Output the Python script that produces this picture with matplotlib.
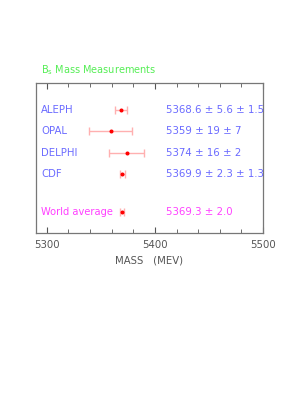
import matplotlib
matplotlib.use("Agg")
import matplotlib.pyplot as plt
from matplotlib.ticker import MultipleLocator
import numpy as np

names = ["ALEPH", "OPAL", "DELPHI", "CDF"]
mass = [5368.6, 5359.0, 5374.0, 5369.9]
stat = [5.6, 19.0, 16.0, 2.3]
syst = [1.5, 7.0, 2.0, 1.3]
value_text = ["5368.6 \u00b1 5.6 \u00b1 1.5", "5359 \u00b1 19 \u00b1 7",
              "5374 \u00b1 16 \u00b1 2", "5369.9 \u00b1 2.3 \u00b1 1.3"]
avg_mass = 5369.3
avg_err = 2.0
avg_text = "5369.3 \u00b1 2.0"

plt.rcParams['font.family'] = ['DejaVu Sans']

fig = plt.figure(figsize=(3.08, 3.98), dpi=100)
ax = fig.add_axes([36 / 308, 1 - 233 / 398, 227 / 308, 150 / 398])

rows = np.arange(len(names))
avg_row = 4.8
total = np.sqrt(np.array(stat) ** 2 + np.array(syst) ** 2)

ax.errorbar(mass, rows, xerr=total, fmt='none', ecolor='#ffb0b0',
            elinewidth=1.0, capsize=3.2, capthick=1.0)
ax.plot(mass, rows, 'o', color='#ff0000', ms=1.9)
ax.errorbar([avg_mass], [avg_row], xerr=[avg_err], fmt='none', ecolor='#ffb0b0',
            elinewidth=1.0, capsize=3.2, capthick=1.0)
ax.plot([avg_mass], [avg_row], 'o', color='#ff0000', ms=1.9)

blue = '#6a6aff'
pink = '#ff40ff'
fs = 7.3
for r, n, t in zip(rows, names, value_text):
    ax.text(0.022, r, n, transform=ax.get_yaxis_transform(), color=blue,
            fontsize=fs, va='center', ha='left')
    ax.text(0.573, r, t, transform=ax.get_yaxis_transform(), color=blue,
            fontsize=fs, va='center', ha='left')
ax.text(0.022, avg_row, "World average", transform=ax.get_yaxis_transform(),
        color=pink, fontsize=7.1, va='center', ha='left')
ax.text(0.573, avg_row, avg_text, transform=ax.get_yaxis_transform(),
        color=pink, fontsize=fs, va='center', ha='left')

ax.set_xlim(5290, 5500)
ax.set_ylim(5.8, -1.29)
ax.set_yticks([])
ax.xaxis.set_major_locator(MultipleLocator(100))
ax.xaxis.set_minor_locator(MultipleLocator(20))
ax.tick_params(axis='x', which='both', direction='in', top=True, bottom=True,
               colors='#555555', labelsize=fs, pad=5)
ax.tick_params(axis='x', which='major', length=4)
ax.tick_params(axis='x', which='minor', length=3)
for s in ax.spines.values():
    s.set_color('#777777')
    s.set_linewidth(0.9)

ax.set_xlabel("MASS   (MEV)", fontsize=fs, color='#555555', labelpad=4)
fig.text(41 / 308, 1 - 70 / 398, "B$_\\mathregular{s}$ Mass Measurements",
         color='#55ee55', fontsize=7.0, va='center', ha='left')

fig.savefig("out.png", dpi=100)
